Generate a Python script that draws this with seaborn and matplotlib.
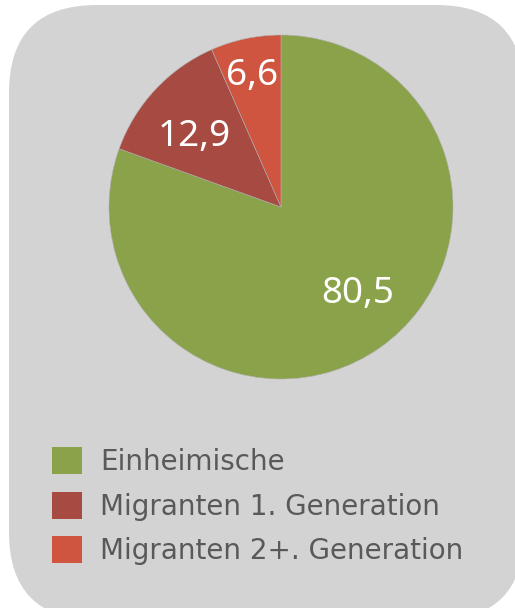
import numpy as np
import seaborn as sns
import matplotlib.pyplot as plt
from matplotlib.patches import FancyBboxPatch, Patch
from matplotlib.transforms import IdentityTransform

sns.set_style("white")
plt.rcParams['font.family'] = ['DejaVu Sans']

# data
categories = ['Einheimische', 'Migranten 1. Generation', 'Migranten 2+. Generation']
values = [80.5, 12.9, 6.6]
value_labels = ['80,5', '12,9', '6,6']
colors = ['#8aa24a', '#a64a42', '#cf5540']
label_dist = [0.656, 0.667, 0.803]
label_turn = [7.7, 2.4, 0.2]   # degrees off the wedge bisector

W, H = 515, 608
fig = plt.figure(figsize=(W / 100, H / 100), dpi=100)
fig.patch.set_facecolor('white')

# rounded grey panel (pixel coords)
panel = FancyBboxPatch((9, -12), 515, 615, boxstyle="round,pad=0,rounding_size=88",
                       transform=IdentityTransform(), facecolor='#d3d3d3',
                       edgecolor='none', zorder=-1)
fig.patches.append(panel)

cx, cy, r = 281, 207, 172
ax = fig.add_axes([(cx - r) / W, (H - cy - r) / H, 2 * r / W, 2 * r / H])
ax.set_zorder(2)
ax.set_facecolor('none')
wedges, _ = ax.pie(values, colors=colors, startangle=90, counterclock=False,
                   radius=1, wedgeprops=dict(linewidth=0.4, edgecolor='#b0b0b0'))
ax.set_xlim(-1, 1)
ax.set_ylim(-1, 1)
ax.set_aspect('equal')
ax.axis('off')

for w, lab, d, t in zip(wedges, value_labels, label_dist, label_turn):
    ang = np.deg2rad((w.theta1 + w.theta2) / 2 + t)
    ax.text(d * np.cos(ang), d * np.sin(ang) - 0.078, lab, color='white',
            fontsize=26.5, family='Noto Sans', ha='center', va='baseline')

handles = [Patch(facecolor=c, edgecolor='none') for c in colors]
leg = fig.legend(handles, categories, loc='upper left',
                 bbox_to_anchor=(44 / W, 1 - 439 / H), frameon=False,
                 fontsize=20, labelcolor='#595959', handlelength=1.08,
                 handleheight=1.12, handletextpad=0.65, labelspacing=0.56,
                 borderaxespad=0, borderpad=0.3)
leg.set_zorder(3)

fig.savefig('out.png', dpi=100, facecolor='white')
